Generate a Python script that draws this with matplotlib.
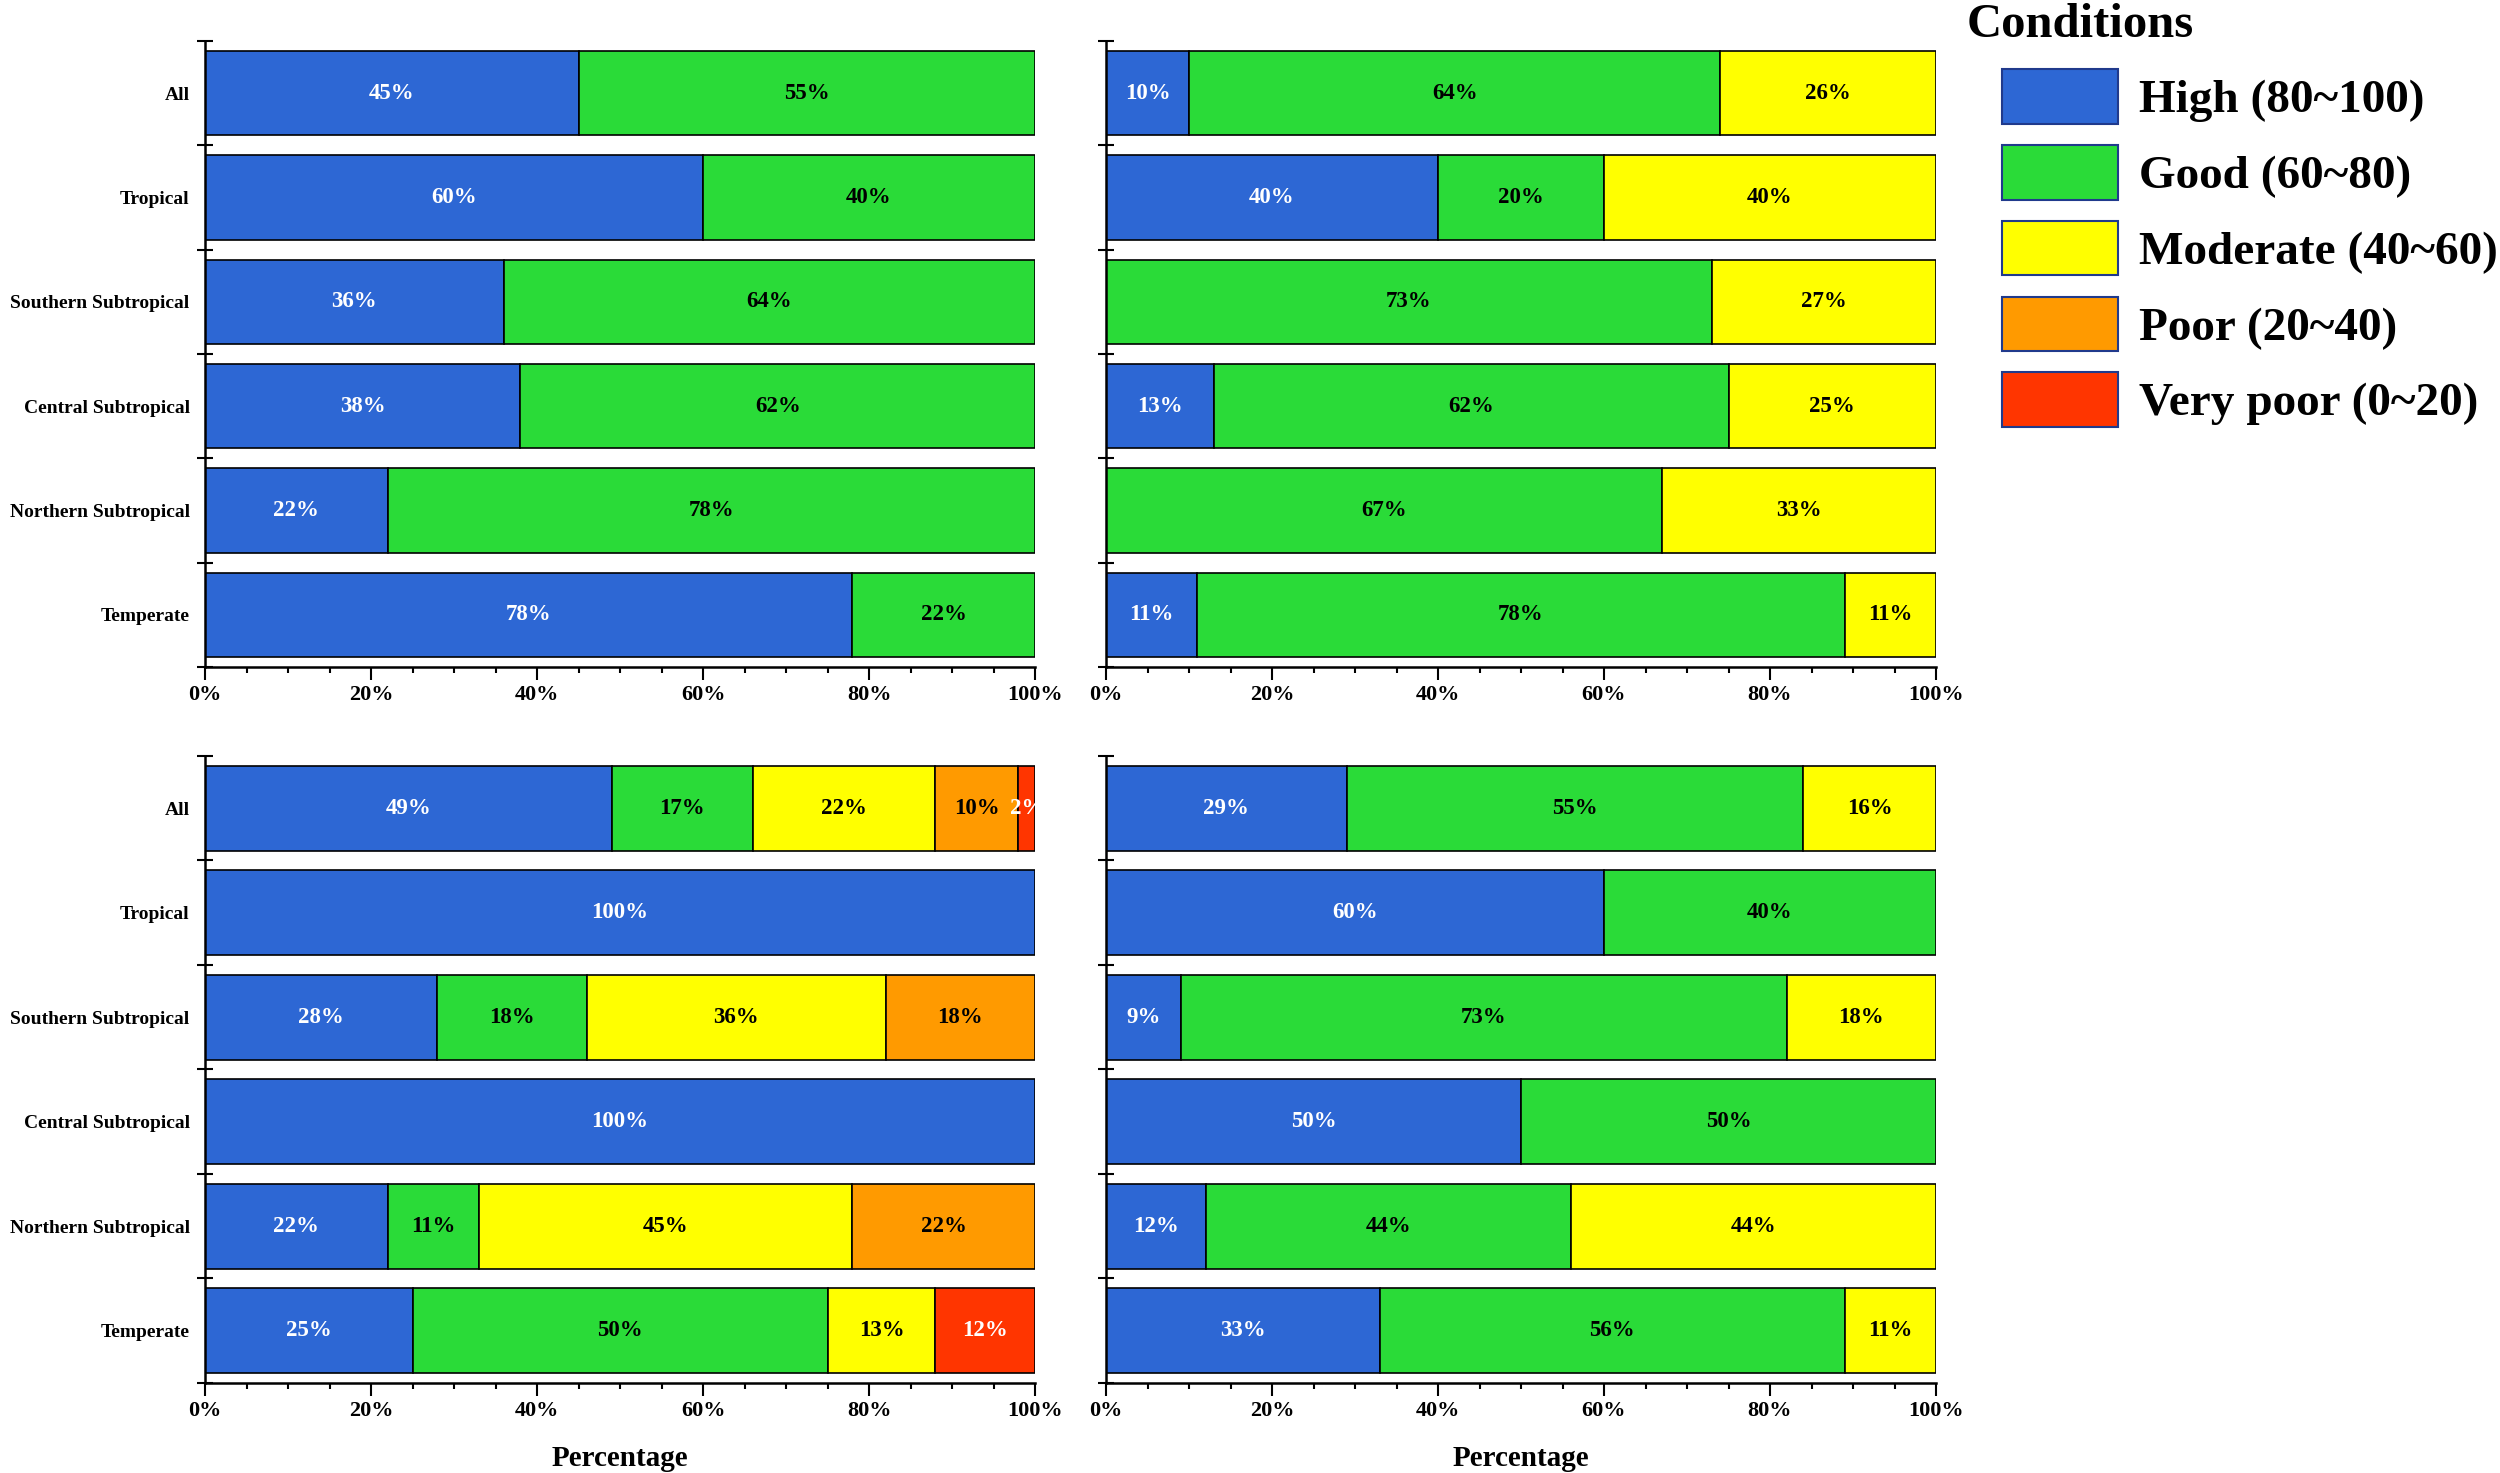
import numpy as np
import matplotlib.pyplot as plt
from matplotlib.patches import Patch

plt.rcParams['font.family'] = ['Liberation Serif', 'DejaVu Serif']
plt.rcParams['font.weight'] = 'bold'
plt.rcParams['axes.labelweight'] = 'bold'

zones = ['All', 'Tropical', 'Southern Subtropical', 'Central Subtropical',
         'Northern Subtropical', 'Temperate']
levels = ['High (80~100)', 'Good (60~80)', 'Moderate (40~60)',
          'Poor (20~40)', 'Very poor (0~20)']
colors = ['#2d67d4', '#2adb38', '#ffff00', '#ff9a00', '#ff3500']
label_colors = ['white', 'black', 'black', 'black', 'white']
xtick_values = [0, 20, 40, 60, 80, 100]

# percentages per zone: High, Good, Moderate, Poor, Very poor
top_left = [
    [45, 55, 0, 0, 0],
    [60, 40, 0, 0, 0],
    [36, 64, 0, 0, 0],
    [38, 62, 0, 0, 0],
    [22, 78, 0, 0, 0],
    [78, 22, 0, 0, 0],
]
top_right = [
    [10, 64, 26, 0, 0],
    [40, 20, 40, 0, 0],
    [0, 73, 27, 0, 0],
    [13, 62, 25, 0, 0],
    [0, 67, 33, 0, 0],
    [11, 78, 11, 0, 0],
]
bottom_left = [
    [49, 17, 22, 10, 2],
    [100, 0, 0, 0, 0],
    [28, 18, 36, 18, 0],
    [100, 0, 0, 0, 0],
    [22, 11, 45, 22, 0],
    [25, 50, 13, 0, 12],
]
bottom_right = [
    [29, 55, 16, 0, 0],
    [60, 40, 0, 0, 0],
    [9, 73, 18, 0, 0],
    [50, 50, 0, 0, 0],
    [12, 44, 44, 0, 0],
    [33, 56, 11, 0, 0],
]


def draw_panel(ax, data, show_names, show_xlabel):
    data = np.array(data, dtype=float)
    y = np.arange(len(zones))
    left = np.zeros(len(zones))
    for j in range(len(levels)):
        vals = data[:, j]
        m = vals > 0
        ax.barh(y[m], vals[m], left=left[m], height=0.81, color=colors[j],
                edgecolor='black', linewidth=1.2)
        for i in np.where(m)[0]:
            ax.text(left[i] + vals[i] / 2, y[i], f'{vals[i]:.0f}%',
                    ha='center', va='center', color=label_colors[j],
                    fontsize=16.5, clip_on=True)
        left += vals

    ax.set_xlim(0, 100)
    ax.set_ylim(5.5, -0.5)

    ax.set_yticks(y)
    ax.set_yticklabels(zones if show_names else [])
    ax.set_yticks(np.arange(-0.5, len(zones), 1), minor=True)
    ax.tick_params(axis='y', which='major', length=0, pad=11, labelsize=14)
    ax.tick_params(axis='y', which='minor', direction='inout', length=11, width=1.5)

    ax.set_xticks(xtick_values)
    ax.set_xticklabels([f'{v}%' for v in xtick_values])
    ax.set_xticks(np.arange(0, 101, 5), minor=True)
    ax.tick_params(axis='x', which='major', direction='out', length=9, width=1.5,
                   pad=4, labelsize=16)
    ax.tick_params(axis='x', which='minor', direction='out', length=4, width=1.5)

    for s in ['top', 'right']:
        ax.spines[s].set_visible(False)
    for s in ['left', 'bottom']:
        ax.spines[s].set_linewidth(1.8)

    if show_xlabel:
        ax.set_xlabel('Percentage', fontsize=21, fontweight='bold', labelpad=17)


fig = plt.figure(figsize=(25, 14.73), dpi=100)

ax1 = fig.add_axes([0.082, 0.5472, 0.332, 0.425])
ax2 = fig.add_axes([0.4424, 0.5472, 0.332, 0.425])
ax3 = fig.add_axes([0.082, 0.0611, 0.332, 0.4257])
ax4 = fig.add_axes([0.4424, 0.0611, 0.332, 0.4257])

draw_panel(ax1, top_left, True, False)
draw_panel(ax2, top_right, False, False)
draw_panel(ax3, bottom_left, True, True)
draw_panel(ax4, bottom_right, False, True)

handles = [Patch(facecolor=c, edgecolor='#203a8c', linewidth=1.5) for c in colors]
fig.legend(handles, levels, loc='upper left', bbox_to_anchor=(0.8008, 0.953),
           frameon=False, borderpad=0, borderaxespad=0, fontsize=34,
           handlelength=2.46, handleheight=1.4, handletextpad=0.45,
           labelspacing=0.45)
fig.text(0.7868, 0.9749, 'Conditions', fontsize=35, fontweight='bold', va='baseline')

fig.savefig('out.png', dpi=100)
